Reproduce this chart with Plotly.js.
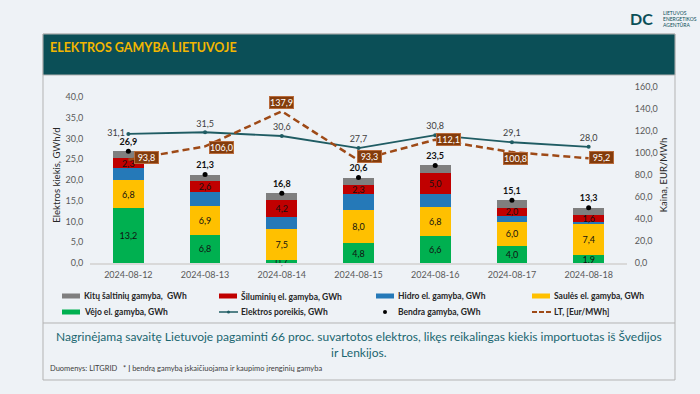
<!DOCTYPE html>
<html><head><meta charset="utf-8">
<script src="https://cdn.plot.ly/plotly-3.0.1.min.js"></script>
<style>html,body{margin:0;padding:0;background:#eef2f6;} #chart{width:700px;height:394px;}</style>
</head><body><div id="chart"></div>
<script>
// ---- data ----
const dates = ['2024-08-12','2024-08-13','2024-08-14','2024-08-15','2024-08-16','2024-08-17','2024-08-18'];
const windGen    = [13.2, 6.8, 0.7, 4.8, 6.6, 4.0, 1.9];
const solarGen   = [6.8, 6.9, 7.5, 8.0, 6.8, 6.0, 7.4];
const hydroGen   = [2.9, 3.4, 2.8, 3.8, 3.2, 1.3, 0.6];
const thermalGen = [2.3, 2.6, 4.2, 2.3, 5.0, 2.0, 1.6];
const otherGen   = [1.7, 1.6, 1.6, 1.7, 1.9, 1.8, 1.8];
const totalGen   = [26.9, 21.3, 16.8, 20.6, 23.5, 15.1, 13.3];
const demand     = [31.1, 31.5, 30.6, 27.7, 30.8, 29.1, 28.0];
const priceLT    = [93.8, 106.0, 137.9, 93.3, 112.1, 100.8, 95.2];
const leftTicks  = [0, 5, 10, 15, 20, 25, 30, 35, 40];
const rightTicks = [0, 20, 40, 60, 80, 100, 120, 140, 160];
const names = {
  other: 'Kitų šaltinių gamyba,  GWh',
  thermal: 'Šiluminių el. gamyba, GWh',
  hydro: 'Hidro el. gamyba, GWh',
  solar: 'Saulės el. gamyba, GWh',
  wind: 'Vėjo el. gamyba, GWh',
  demand: 'Elektros poreikis, GWh',
  total: 'Bendra gamyba, GWh',
  price: 'LT, [Eur/MWh]'
};

// ---- styles ----
const colors = {wind:'#00b050', solar:'#ffc000', hydro:'#2579b8', thermal:'#c00000', other:'#7f7f7f',
  demand:'#1f5c63', total:'#000000', price:'#9e4a17'};
const FONT = 'Lato, "Open Sans", sans-serif';
const W = 700, H = 394, ML = 90, MR = 73, MT = 87, MB = 131;
const PW = W - ML - MR, PH = H - MT - MB;
const px = x => (x - ML) / PW;
const py = y => (H - MB - y) / PH;
const fmt = v => v.toFixed(1).replace('.', ',');

function barTrace(key, vals, showText) {
  return {
    type: 'bar', x: dates, y: vals, name: names[key], showlegend: false,
    marker: {color: colors[key]},
    text: showText ? vals.map(fmt) : null,
    textposition: showText ? 'inside' : 'none',
    insidetextanchor: 'middle', textangle: 0, constraintext: 'none',
    textfont: {family: FONT, size: 9, color: '#111'},
    cliponaxis: false,
    hoverinfo: 'skip'
  };
}

const traces = [
  barTrace('wind', windGen, true),
  barTrace('solar', solarGen, true),
  barTrace('hydro', hydroGen, false),
  barTrace('thermal', thermalGen, true),
  barTrace('other', otherGen, false),
  {
    type: 'scatter', mode: 'lines+markers+text', x: dates, y: demand, name: names.demand, showlegend: false,
    line: {color: colors.demand, width: 1.8}, marker: {color: colors.demand, size: 4},
    text: demand.map(fmt),
    textposition: ['middle left','top center','top center','top center','top center','top center','top center'],
    textfont: {family: FONT, size: 9, color: '#404040'}, cliponaxis: false, hoverinfo: 'skip'
  },
  {
    type: 'scatter', mode: 'markers+text', x: dates, y: totalGen, name: names.total, showlegend: false,
    marker: {color: colors.total, size: 5},
    text: totalGen.map(v => '<b>' + fmt(v) + '</b>'), textposition: 'top center',
    textfont: {family: FONT, size: 9, color: '#111'}, cliponaxis: false, hoverinfo: 'skip'
  },
  {
    type: 'scatter', mode: 'lines', x: dates, y: priceLT, yaxis: 'y2', name: names.price, showlegend: false,
    line: {color: colors.price, width: 2.5, dash: '7px,4px'}, hoverinfo: 'skip'
  }
];

// label offsets for LT price boxes (pixels)
const priceLabelShift = [[18,2],[16,-1],[0,9],[11,4],[13,0],[4,-6],[13,1]];

const annotations = [];
const shapes = [];

// frame
shapes.push({type:'rect', xref:'paper', yref:'paper', x0:px(43), x1:px(675), y0:py(380), y1:py(34),
  line:{color:'#b3b3b3', width:1}, fillcolor:'rgba(0,0,0,0)', layer:'below'});
shapes.push({type:'rect', xref:'paper', yref:'paper', x0:px(43), x1:px(675), y0:py(75), y1:py(34),
  line:{color:'#b3b3b3', width:1}, fillcolor:'#0b4f57', layer:'below'});
shapes.push({type:'line', xref:'paper', yref:'paper', x0:px(43), x1:px(675), y0:py(323), y1:py(323),
  line:{color:'#b3b3b3', width:1}});

// title
annotations.push({xref:'paper', yref:'paper', x:px(48), y:py(47), xanchor:'left', yanchor:'middle', showarrow:false,
  text:'<b>ELEKTROS GAMYBA LIETUVOJE</b>', font:{family:FONT, size:12.5, color:'#f2b600'}});

// logo
annotations.push({xref:'paper', yref:'paper', x:px(641), y:py(19), xanchor:'center', yanchor:'middle', showarrow:false,
  text:'<b>DC</b>', font:{family:FONT, size:16, color:'#0b4f57'}});
['LIETUVOS','ENERGETIKOS','AGENTŪRA'].forEach((t,i) => annotations.push({xref:'paper', yref:'paper',
  x:px(661), y:py(13 + i*6), xanchor:'left', yanchor:'middle', showarrow:false, text:t,
  font:{family:FONT, size:5, color:'#0b4f57'}}));

// LT price labels
priceLT.forEach((v,i) => annotations.push({x:dates[i], y:v, xref:'x', yref:'y2', showarrow:false,
  text:fmt(v), xshift:priceLabelShift[i][0], yshift:priceLabelShift[i][1],
  bgcolor:'#843c0c', bordercolor:'#b86a3a', borderwidth:1, borderpad:0, width:23, height:11,
  font:{family:FONT, size:9, color:'#ffffff'}}));

// custom legend
const legendItems = [
  {key:'other', kind:'rect', x:62, y:296}, {key:'thermal', kind:'rect', x:219, y:296},
  {key:'hydro', kind:'rect', x:376, y:296}, {key:'solar', kind:'rect', x:532, y:296},
  {key:'wind', kind:'rect', x:62, y:312}, {key:'demand', kind:'linemark', x:219, y:312},
  {key:'total', kind:'dot', x:376, y:312}, {key:'price', kind:'dash', x:532, y:312}
];
legendItems.forEach(it => {
  const c = colors[it.key];
  if (it.kind === 'rect') {
    shapes.push({type:'rect', xref:'paper', yref:'paper', x0:px(it.x), x1:px(it.x+18), y0:py(it.y+2.5), y1:py(it.y-2.5),
      fillcolor:c, line:{width:0}});
  } else if (it.kind === 'linemark') {
    shapes.push({type:'line', xref:'paper', yref:'paper', x0:px(it.x), x1:px(it.x+19), y0:py(it.y), y1:py(it.y),
      line:{color:c, width:1.5}});
    shapes.push({type:'circle', xref:'paper', yref:'paper', x0:px(it.x+8), x1:px(it.x+11), y0:py(it.y+1.5), y1:py(it.y-1.5),
      fillcolor:c, line:{width:0}});
  } else if (it.kind === 'dot') {
    shapes.push({type:'circle', xref:'paper', yref:'paper', x0:px(it.x+7), x1:px(it.x+11), y0:py(it.y+2), y1:py(it.y-2),
      fillcolor:c, line:{width:0}});
  } else {
    [0,7,14].forEach(o => shapes.push({type:'line', xref:'paper', yref:'paper', x0:px(it.x+o), x1:px(it.x+o+5),
      y0:py(it.y), y1:py(it.y), line:{color:c, width:2}}));
  }
  annotations.push({xref:'paper', yref:'paper', x:px(it.x+20), y:py(it.y), xanchor:'left', yanchor:'middle',
    showarrow:false, text:'<b>' + names[it.key] + '</b>', font:{family:FONT, size:8.5, color:'#262626'}});
});

// footer
annotations.push({xref:'paper', yref:'paper', x:px(359), y:py(336), xanchor:'center', yanchor:'middle', showarrow:false,
  text:'Nagrinėjamą savaitę Lietuvoje pagaminti 66 proc. suvartotos elektros, likęs reikalingas kiekis importuotas iš Švedijos',
  font:{family:FONT, size:12, color:'#1a6670'}});
annotations.push({xref:'paper', yref:'paper', x:px(359), y:py(352), xanchor:'center', yanchor:'middle', showarrow:false,
  text:'ir Lenkijos.', font:{family:FONT, size:12, color:'#1a6670'}});
annotations.push({xref:'paper', yref:'paper', x:px(48), y:py(368), xanchor:'left', yanchor:'middle', showarrow:false,
  text:'Duomenys: LITGRID   * Į bendrą gamybą įskaičiuojama ir kaupimo įrenginių gamyba',
  font:{family:FONT, size:7.5, color:'#404040'}});

const layout = {
  width: W, height: H,
  margin: {l: ML, r: MR, t: MT, b: MB, pad: 0},
  paper_bgcolor: '#eef2f6', plot_bgcolor: 'rgba(0,0,0,0)',
  font: {family: FONT, color: '#595959'},
  separators: ', ',
  barmode: 'stack', bargap: 0.6,
  showlegend: false,
  xaxis: {type: 'category', range: [-0.5, 6.5], showline: true, linecolor: '#d9d9d9', linewidth: 1.5,
    ticks: 'outside', ticklen: 3, tickcolor: 'rgba(0,0,0,0)', showgrid: false, zeroline: false,
    tickfont: {family: FONT, size: 9, color: '#595959'}, automargin: false, fixedrange: true},
  yaxis: {range: [0, PH / 4.15], tickmode: 'array', tickvals: leftTicks, tickformat: '.1f',
    showgrid: false, zeroline: false, showline: false, ticks: 'outside', ticklen: 4, tickcolor: 'rgba(0,0,0,0)',
    tickfont: {family: FONT, size: 9, color: '#595959'}, automargin: false, fixedrange: true,
    title: {text: 'Elektros kiekis, GWh/d', font: {family: FONT, size: 9.5, color: '#262626'}, standoff: 3}},
  yaxis2: {range: [0, 160], overlaying: 'y', side: 'right', tickmode: 'array', tickvals: rightTicks, tickformat: '.1f',
    showgrid: false, zeroline: false, showline: false, ticks: 'outside', ticklen: 5, tickcolor: 'rgba(0,0,0,0)',
    tickfont: {family: FONT, size: 9, color: '#595959'}, automargin: false, fixedrange: true,
    title: {text: 'Kaina, EUR/MWh', font: {family: FONT, size: 9.5, color: '#262626'}, standoff: 3}},
  shapes: shapes,
  annotations: annotations
};

Plotly.newPlot('chart', traces, layout, {displayModeBar: false, staticPlot: true});
</script>
</body></html>
